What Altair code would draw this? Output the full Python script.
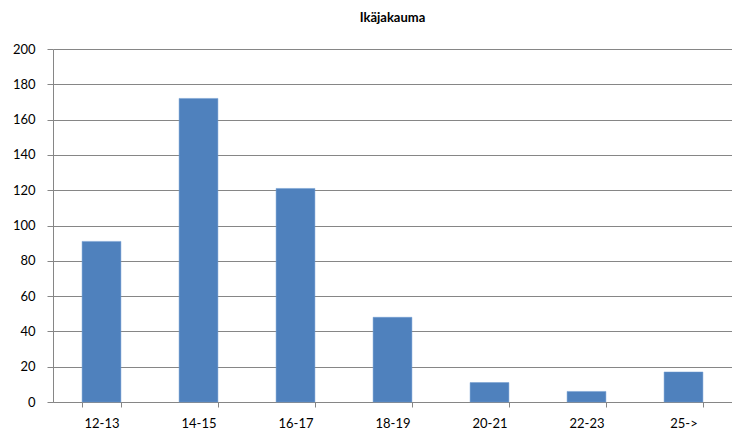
import altair as alt
import pandas as pd

categories = ["12-13", "14-15", "16-17", "18-19", "20-21", "22-23", "25->"]
counts = [91, 172, 121, 48, 11, 6, 17]

df = pd.DataFrame({"ika": categories, "lkm": counts})

FONT = "Lato"

chart = (
    alt.Chart(df)
    .mark_bar(color="#4F81BD", stroke="#6f9ad0", strokeWidth=0.5)
    .encode(
        x=alt.X(
            "ika:N",
            sort=categories,
            title=None,
            scale=alt.Scale(paddingInner=0.6, paddingOuter=0.3),
            axis=alt.Axis(
                labelAngle=0,
                tickBand="extent",
                tickSize=5,
                labelPadding=10,
                grid=False,
                domainColor="#868686",
                tickColor="#868686",
            ),
        ),
        y=alt.Y(
            "lkm:Q",
            title=None,
            scale=alt.Scale(domain=[0, 200], nice=False),
            axis=alt.Axis(
                values=list(range(0, 201, 20)),
                tickSize=6,
                labelPadding=12,
                gridColor="#868686",
                domainColor="#868686",
                tickColor="#868686",
            ),
        ),
    )
    .properties(
        width=679,
        height=353,
        title=alt.TitleParams(
            "Ikäjakauma", font=FONT, fontSize=13, fontWeight="bold", color="#000000", offset=18
        ),
        autosize=alt.AutoSizeParams(type="none"),
        padding={"left": 45, "top": 41, "right": 0, "bottom": 30},
    )
    .configure_view(stroke=None)
    .configure_axis(
        labelFont=FONT,
        labelFontSize=13,
        labelColor="#000000",
        domainWidth=1,
        gridWidth=1,
    )
)

chart.save("out.html", embed_options={"renderer": "svg", "actions": False})
